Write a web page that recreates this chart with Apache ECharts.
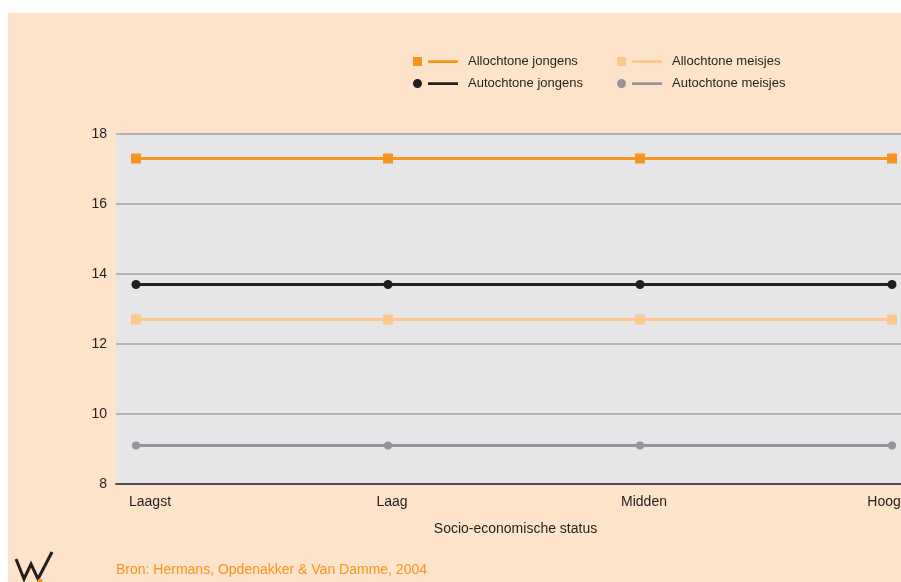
<!DOCTYPE html>
<html>
<head>
<meta charset="utf-8">
<script src="https://cdn.jsdelivr.net/npm/echarts@6/dist/echarts.min.js"></script>
<style>
  html, body { margin: 0; padding: 0; background: #fff; }
  #chart { width: 901px; height: 582px; }
</style>
</head>
<body>
<div id="chart"></div>
<script>
// categories along the x axis
var categories = ['Laagst', 'Laag', 'Midden', 'Hoog'];

// series values
var allochtoneJongens = [17.3, 17.3, 17.3, 17.3];
var allochtoneMeisjes = [12.7, 12.7, 12.7, 12.7];
var autochtoneJongens = [13.7, 13.7, 13.7, 13.7];
var autochtoneMeisjes = [9.1, 9.1, 9.1, 9.1];

var yTicks = [8, 10, 12, 14, 16, 18];

var font = 'Liberation Sans, Arial, sans-serif';
var squareIcon = 'path://M0,0h9v9h-9z M15,3.3h30v2.6h-30z';
var circleIcon = 'path://M4.5,0a4.5,4.5 0 1,1 0,9a4.5,4.5 0 1,1 0,-9z M15,3.2h30v2.8h-30z';

// label nudges so the category names sit where the original puts them
var labelStyles = ['a', 'b', 'b', 'c'];

function toPoints(values) {
    return values.map(function (v, i) { return [i, v]; });
}

function lineSeries(name, values, color, symbol, size) {
    return {
        name: name,
        type: 'line',
        data: toPoints(values),
        symbol: symbol,
        symbolSize: size,
        showSymbol: true,
        lineStyle: { color: color, width: 3 },
        itemStyle: { color: color },
        emphasis: { disabled: true },
        z: 3
    };
}

var legendText = { fontSize: 13, color: '#231f20', fontFamily: font, padding: [0, 0, 0, 5] };

var chart = echarts.init(document.getElementById('chart'));
chart.setOption({
    animation: false,
    textStyle: { fontFamily: font },
    graphic: [
        {
            type: 'rect', z: -10, silent: true,
            shape: { x: 8, y: 13, width: 893, height: 569 },
            style: { fill: '#fde3c9' }
        },
        {
            type: 'text', left: 116, top: 563,
            style: { text: 'Bron: Hermans, Opdenakker & Van Damme, 2004', fill: '#f7941d', font: '14px ' + font }
        },
        {
            type: 'polyline', z: 5,
            shape: { points: [[16, 559], [24, 579], [31, 564], [38, 579], [52, 552]] },
            style: { stroke: '#231f20', lineWidth: 3, fill: null, lineJoin: 'miter' }
        },
        {
            type: 'circle', z: 6,
            shape: { cx: 40, cy: 581, r: 2.5 },
            style: { fill: '#f7941d' }
        }
    ],
    legend: [
        {
            orient: 'vertical', left: 413, top: 55, padding: 0,
            itemWidth: 45, itemHeight: 9, itemGap: 9,
            textStyle: legendText,
            data: [
                { name: 'Allochtone jongens', icon: squareIcon },
                { name: 'Autochtone jongens', icon: circleIcon }
            ]
        },
        {
            orient: 'vertical', left: 617, top: 55, padding: 0,
            itemWidth: 45, itemHeight: 9, itemGap: 9,
            textStyle: legendText,
            data: [
                { name: 'Allochtone meisjes', icon: squareIcon },
                { name: 'Autochtone meisjes', icon: circleIcon }
            ]
        }
    ],
    grid: {
        left: 116, right: 0, top: 134, bottom: 98,
        containLabel: false,
        outerBoundsMode: 'none',
        show: true, backgroundColor: '#e6e6e8', borderWidth: 0
    },
    xAxis: {
        type: 'value',
        min: -20 / 252,
        max: 765 / 252,
        name: 'Socio-economische status',
        nameLocation: 'middle',
        nameGap: 38,
        nameTextStyle: { fontSize: 14, color: '#231f20', padding: [0, 0, 0, 14] },
        axisLine: { show: true, lineStyle: { color: '#4d4d4f', width: 2 } },
        axisTick: { show: false },
        splitLine: { show: false },
        axisLabel: {
            customValues: [0, 1, 2, 3],
            margin: 11,
            fontSize: 14,
            color: '#231f20',
            hideOverlap: false,
            formatter: function (v) {
                var i = Math.round(v);
                return '{' + labelStyles[i] + '|' + categories[i] + '}';
            },
            rich: {
                a: { fontSize: 14, color: '#231f20', padding: [0, 0, 0, 28] },
                b: { fontSize: 14, color: '#231f20', padding: [0, 0, 0, 8] },
                c: { fontSize: 14, color: '#231f20', padding: [0, 16, 0, 0] }
            }
        }
    },
    yAxis: {
        type: 'value',
        min: yTicks[0],
        max: yTicks[yTicks.length - 1],
        interval: 2,
        axisLine: { show: false },
        axisTick: { show: false },
        axisLabel: { fontSize: 14, color: '#231f20', margin: 9 },
        splitLine: { lineStyle: { color: '#a3a3a5', width: 1.5 } }
    },
    series: [
        lineSeries('Allochtone jongens', allochtoneJongens, '#f7941d', 'rect', 10),
        lineSeries('Allochtone meisjes', allochtoneMeisjes, '#fbc78c', 'rect', 10),
        lineSeries('Autochtone jongens', autochtoneJongens, '#231f20', 'circle', 9),
        lineSeries('Autochtone meisjes', autochtoneMeisjes, '#939598', 'circle', 8)
    ]
});
</script>
</body>
</html>
